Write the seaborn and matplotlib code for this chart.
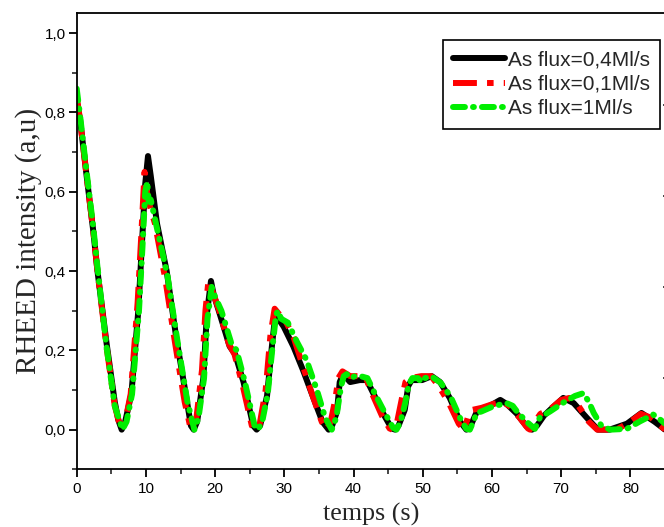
import matplotlib
matplotlib.use("Agg")
import matplotlib.pyplot as plt
import seaborn as sns
from matplotlib.ticker import FixedLocator, MultipleLocator

# ---------------- data ----------------
black_t = [0.0, 0.5, 1.5, 2.4, 3.0, 4.3, 5.5, 6.0, 6.5, 7.0, 7.9, 8.9, 9.4, 9.9, 10.3,
           10.7, 11.6, 13.0, 14.4, 15.9, 16.5, 16.9, 17.4, 18.3, 18.8, 19.4, 19.8, 20.7,
           22.1, 22.9, 24.1, 25.5, 26.0, 26.5, 27.5, 28.2, 28.7, 29.1, 29.9, 31.3, 32.7,
           34.2, 35.5, 36.4, 36.9, 37.6, 38.0, 38.5, 39.5, 40.9, 41.9, 42.9, 44.3, 45.5,
           46.0, 46.5, 47.4, 47.9, 48.4, 49.9, 51.3, 52.5, 53.9, 55.4, 56.3, 56.8, 57.8,
           58.5, 60.2, 61.2, 62.1, 63.6, 65.0, 65.8, 66.5, 67.5, 68.4, 70.3, 71.8, 73.7,
           75.3, 77.0, 79.5, 81.6, 83.5, 85.0]
black_y = [0.83, 0.78, 0.63, 0.50, 0.40, 0.22, 0.07, 0.025, 0.0, 0.02, 0.09, 0.30, 0.46, 0.62, 0.69,
           0.64, 0.52, 0.40, 0.23, 0.075, 0.01, 0.0, 0.02, 0.13, 0.29, 0.375, 0.34, 0.29,
           0.21, 0.19, 0.12, 0.01, 0.0, 0.01, 0.085, 0.21, 0.29, 0.28, 0.26, 0.21, 0.15,
           0.08, 0.02, 0.0, 0.01, 0.045, 0.12, 0.14, 0.12, 0.125, 0.125, 0.09, 0.04, 0.003,
           0.0, 0.01, 0.05, 0.11, 0.125, 0.125, 0.135, 0.12, 0.08, 0.02, 0.0, 0.005, 0.045,
           0.05, 0.065, 0.075, 0.065, 0.04, 0.008, 0.0, 0.01, 0.035, 0.05, 0.08, 0.067, 0.03,
           0.0, 0.0, 0.015, 0.042, 0.02, 0.0]

red_t = [0.0, 0.5, 1.5, 2.4, 3.0, 4.3, 5.5, 6.4, 7.0, 7.8, 8.8, 9.3, 9.8, 10.3, 11.3,
         12.8, 14.2, 15.6, 16.5, 17.3, 18.1, 18.6, 19.0, 19.6, 20.6, 22.0, 22.8, 24.0,
         25.3, 25.8, 26.4, 27.3, 28.0, 28.6, 29.3, 30.0, 31.3, 32.5, 34.0, 35.4, 36.1,
         36.7, 37.4, 37.8, 38.4, 39.5, 40.8, 41.8, 42.7, 44.1, 45.2, 45.6, 46.3, 47.0,
         47.5, 48.2, 49.8, 51.2, 52.3, 53.7, 55.2, 56.0, 56.5, 57.2, 58.5, 60.2, 61.5,
         62.5, 64.0, 65.2, 65.5, 66.2, 67.0, 68.3, 70.0, 71.2, 72.5, 74.0, 75.2, 78.0,
         80.0, 81.5, 83.0, 85.0]
red_y = [0.84, 0.78, 0.63, 0.50, 0.40, 0.21, 0.06, 0.0, 0.02, 0.09, 0.32, 0.48, 0.65, 0.58, 0.52,
         0.38, 0.22, 0.07, 0.0, 0.03, 0.15, 0.30, 0.37, 0.35, 0.30, 0.215, 0.19, 0.11,
         0.01, 0.0, 0.01, 0.10, 0.24, 0.305, 0.29, 0.28, 0.235, 0.17, 0.09, 0.02, 0.0,
         0.02, 0.08, 0.13, 0.147, 0.135, 0.135, 0.13, 0.09, 0.035, 0.003, 0.0, 0.02, 0.08,
         0.12, 0.13, 0.135, 0.135, 0.11, 0.07, 0.015, 0.0, 0.03, 0.05, 0.055, 0.065, 0.07,
         0.06, 0.03, 0.003, 0.0, 0.02, 0.04, 0.05, 0.075, 0.08, 0.06, 0.02, 0.0, 0.0,
         0.02, 0.04, 0.03, 0.0]

green_t = [0.0, 0.5, 1.5, 2.4, 3.0, 4.3, 5.5, 6.6, 7.2, 8.0, 9.0, 9.5, 9.9, 10.2, 10.4,
           10.7, 11.7, 13.1, 14.5, 16.0, 17.0, 17.6, 18.4, 18.9, 19.5, 20.0, 20.9, 22.3,
           23.1, 24.3, 25.7, 26.2, 26.8, 27.6, 28.3, 28.8, 29.1, 29.5, 30.5, 31.8, 33.2,
           34.7, 35.9, 36.85, 37.5, 38.2, 38.6, 39.0, 39.6, 40.2, 41.0, 42.0, 43.1, 44.6,
           45.7, 46.2, 46.8, 47.5, 48.0, 48.5, 49.3, 49.8, 50.3, 51.3, 52.6, 54.0, 55.5,
           56.3, 56.8, 57.3, 57.8, 58.5, 60.2, 62.1, 63.0, 63.6, 65.0, 66.2, 66.9, 68.4,
           70.3, 72.0, 73.2, 74.0, 74.7, 75.8, 77.1, 79.5, 81.4, 83.3, 84.0, 85.0]
green_y = [0.86, 0.79, 0.64, 0.51, 0.41, 0.21, 0.06, 0.0, 0.02, 0.09, 0.30, 0.46, 0.60, 0.625, 0.575,
           0.58, 0.50, 0.39, 0.23, 0.07, 0.0, 0.03, 0.13, 0.28, 0.36, 0.335, 0.30, 0.22,
           0.20, 0.12, 0.01, 0.0, 0.02, 0.09, 0.21, 0.29, 0.30, 0.28, 0.27, 0.222, 0.176,
           0.10, 0.03, 0.0, 0.03, 0.11, 0.135, 0.14, 0.13, 0.135, 0.135, 0.13, 0.09, 0.04,
           0.005, 0.0, 0.02, 0.07, 0.115, 0.13, 0.13, 0.12, 0.13, 0.134, 0.118, 0.084, 0.025,
           0.002, 0.0, 0.02, 0.042, 0.046, 0.059, 0.067, 0.06, 0.046, 0.02, 0.002, 0.03, 0.046,
           0.068, 0.085, 0.092, 0.07, 0.042, 0.01, 0.0, 0.002, 0.021, 0.038, 0.03, 0.015]

series_labels = ["As flux=0,4Ml/s", "As flux=0,1Ml/s", "As flux=1Ml/s"]
x_ticks = [0, 10, 20, 30, 40, 50, 60, 70, 80]
x_tick_labels = ["0", "10", "20", "30", "40", "50", "60", "70", "80"]
y_ticks = [0.0, 0.2, 0.4, 0.6, 0.8, 1.0]
y_tick_labels = ["0,0", "0,2", "0,4", "0,6", "0,8", "1,0"]
right_marks = [0.818, 0.589, 0.360, 0.131]

# ---------------- style ----------------
sns.set_theme(style="ticks")
plt.rcParams["font.family"] = ["Liberation Sans", "DejaVu Sans"]

W, H = 664, 527
fig = plt.figure(figsize=(W / 100, H / 100), dpi=100)
left, right, top, bottom = 76.7, 665.0, 13.3, 469.3
ax = fig.add_axes([left / W, (H - bottom) / H, (right - left) / W, (bottom - top) / H])

lw = 4.3
sns.lineplot(x=black_t, y=black_y, ax=ax, color="black", lw=lw, label=series_labels[0],
             sort=False, estimator=None, solid_capstyle="round", solid_joinstyle="round")
sns.lineplot(x=red_t, y=red_y, ax=ax, color="#ff0000", lw=lw, label=series_labels[1],
             sort=False, estimator=None, linestyle=(0, (4.0, 1.7, 1.1, 1.7)),
             dash_capstyle="butt")
sns.lineplot(x=green_t, y=green_y, ax=ax, color="#00ee00", lw=lw, label=series_labels[2],
             sort=False, estimator=None, linestyle=(0, (2.0, 1.35, 0.15, 1.35)),
             dash_capstyle="round")

ax.set_xlim(0, 85)
ax.set_ylim(-0.1, 1.05)

ax.xaxis.set_major_locator(FixedLocator(x_ticks))
ax.set_xticklabels(x_tick_labels)
ax.xaxis.set_minor_locator(MultipleLocator(5))
ax.yaxis.set_major_locator(FixedLocator(y_ticks))
ax.set_yticklabels(y_tick_labels)
ax.yaxis.set_minor_locator(MultipleLocator(0.1))

for s in ax.spines.values():
    s.set_linewidth(1.3)
    s.set_color("black")
    s.set_visible(True)

ax.tick_params(axis="both", which="major", direction="out", length=6, width=1.3,
               labelsize=11, colors="black", pad=2)
ax.tick_params(axis="both", which="minor", direction="out", length=3.5, width=1.2)
ax.tick_params(axis="x", which="major", pad=3)
ax.tick_params(top=False, right=False, which="both")

# faint inward tick marks on the (clipped) right axis
sec = ax.secondary_yaxis("right")
sec.set_yticks(right_marks)
sec.set_yticklabels([])
sec.tick_params(direction="in", length=1.5, width=1.2)
sec.spines["right"].set_linewidth(1.3)

serif = ["Liberation Serif", "DejaVu Serif"]
ax.set_xlabel("temps (s)", fontsize=18.7, family=serif, labelpad=5)
ax.set_ylabel("RHEED intensity (a,u)", fontsize=21, family=serif, labelpad=2)

leg = ax.legend(loc="upper right",
                bbox_to_anchor=((660 - left) / (right - left), (bottom - 40) / (bottom - top)),
                borderaxespad=0, frameon=True, fancybox=False, shadow=False,
                edgecolor="black", framealpha=1, fontsize=15,
                handlelength=2.5, handletextpad=0.12, labelspacing=0.26, borderpad=0.5)
leg.get_frame().set_linewidth(1.2)

fig.savefig("out.png", dpi=100)
